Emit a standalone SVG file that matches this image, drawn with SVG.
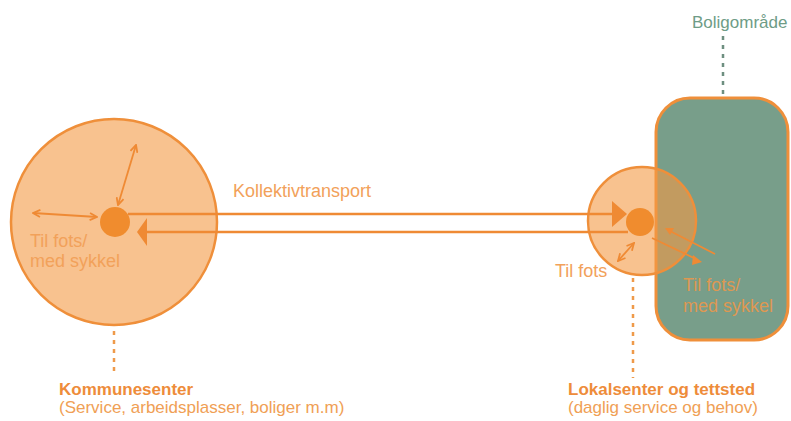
<svg xmlns="http://www.w3.org/2000/svg" width="791" height="421" viewBox="0 0 791 421">
<defs>
<style>
.ln{stroke:#EF8A34;stroke-width:2.5;fill:none}
.sm{stroke:#EF8A34;stroke-width:1.8;fill:none}
.dot{fill:#F08C2E}
.dash{stroke:#EF9A4A;stroke-width:2.5;stroke-dasharray:4 5;fill:none}
.t{font-family:"Liberation Sans",Arial,sans-serif;font-size:18px;fill:#F2A15A}
.b{font-family:"Liberation Sans",Arial,sans-serif;font-size:17px;font-weight:bold;fill:#EE8C3A}
.s{font-family:"Liberation Sans",Arial,sans-serif;font-size:17px;fill:#F0A055}
</style>
<marker id="v" viewBox="0 0 10 10" refX="9" refY="5" markerWidth="9" markerHeight="9" markerUnits="userSpaceOnUse" orient="auto-start-reverse">
<path d="M1,1 L9,5 L1,9" fill="none" stroke="#EF8A34" stroke-width="2"/>
</marker>
</defs>
<rect width="791" height="421" fill="#FFFFFF"/>

<g id="boligomrade">
<line x1="723" y1="36" x2="723" y2="97" stroke="#6E8F80" stroke-width="2.5" stroke-dasharray="4 5"/>
<rect x="656" y="98" width="132" height="242" rx="34" ry="34" fill="#789E8A" stroke="#EF8F3A" stroke-width="3"/>
<text x="692" y="28" font-family="'Liberation Sans',Arial,sans-serif" font-size="17" fill="#6E9C86">Boligområde</text>
</g>

<g id="kommunesenter">
<circle cx="114" cy="222" r="103" fill="#F39A45" fill-opacity="0.6" stroke="#EF8F3A" stroke-width="2.5"/>
<circle class="dot" cx="115" cy="222" r="15"/>
<line class="dash" x1="114" y1="331" x2="114" y2="372"/>
<text class="t" x="30" y="247">Til fots/</text>
<text class="t" x="30" y="267">med sykkel</text>
<text class="b" x="59" y="395">Kommunesenter</text>
<text class="s" x="59" y="413">(Service, arbeidsplasser, boliger m.m)</text>
</g>

<g id="lokalsenter">
<circle cx="642" cy="221" r="54" fill="#F39A45" fill-opacity="0.6" stroke="#EF8F3A" stroke-width="2.5"/>
<circle class="dot" cx="640" cy="222" r="14"/>
<line class="dash" x1="633" y1="278" x2="633" y2="378"/>
<text class="t" x="555" y="277">Til fots</text>
<text class="b" x="568" y="395">Lokalsenter og tettsted</text>
<text class="s" x="568" y="413">(daglig service og behov)</text>
<text x="683" y="291" font-family="'Liberation Sans',Arial,sans-serif" font-size="18" fill="#DE9852">Til fots/</text>
<text x="683" y="312" font-family="'Liberation Sans',Arial,sans-serif" font-size="18" fill="#DE9852">med sykkel</text>
</g>

<g id="connectors">
<text class="t" x="233" y="197">Kollektivtransport</text>
<line class="ln" x1="128" y1="214" x2="614" y2="214"/>
<polygon fill="#EF8A34" points="612,201 627,214 612,227"/>
<line class="ln" x1="146" y1="232" x2="628" y2="232"/>
<polygon fill="#EF8A34" points="137,232 147,218 147,246"/>
<line class="sm" x1="33" y1="213" x2="97" y2="217" marker-start="url(#v)" marker-end="url(#v)"/>
<line class="sm" x1="136" y1="145" x2="118" y2="205" marker-start="url(#v)" marker-end="url(#v)"/>
<line class="sm" x1="618" y1="261" x2="634" y2="243" marker-start="url(#v)" marker-end="url(#v)"/>
<line class="sm" x1="652" y1="238" x2="696" y2="259"/>
<polygon fill="#EF8A34" points="693,255 702,262 692,265"/>
<line class="sm" x1="715" y1="254" x2="670" y2="231"/>
<polygon fill="#EF8A34" points="665,228 674,228 670,235"/>
</g>
</svg>
